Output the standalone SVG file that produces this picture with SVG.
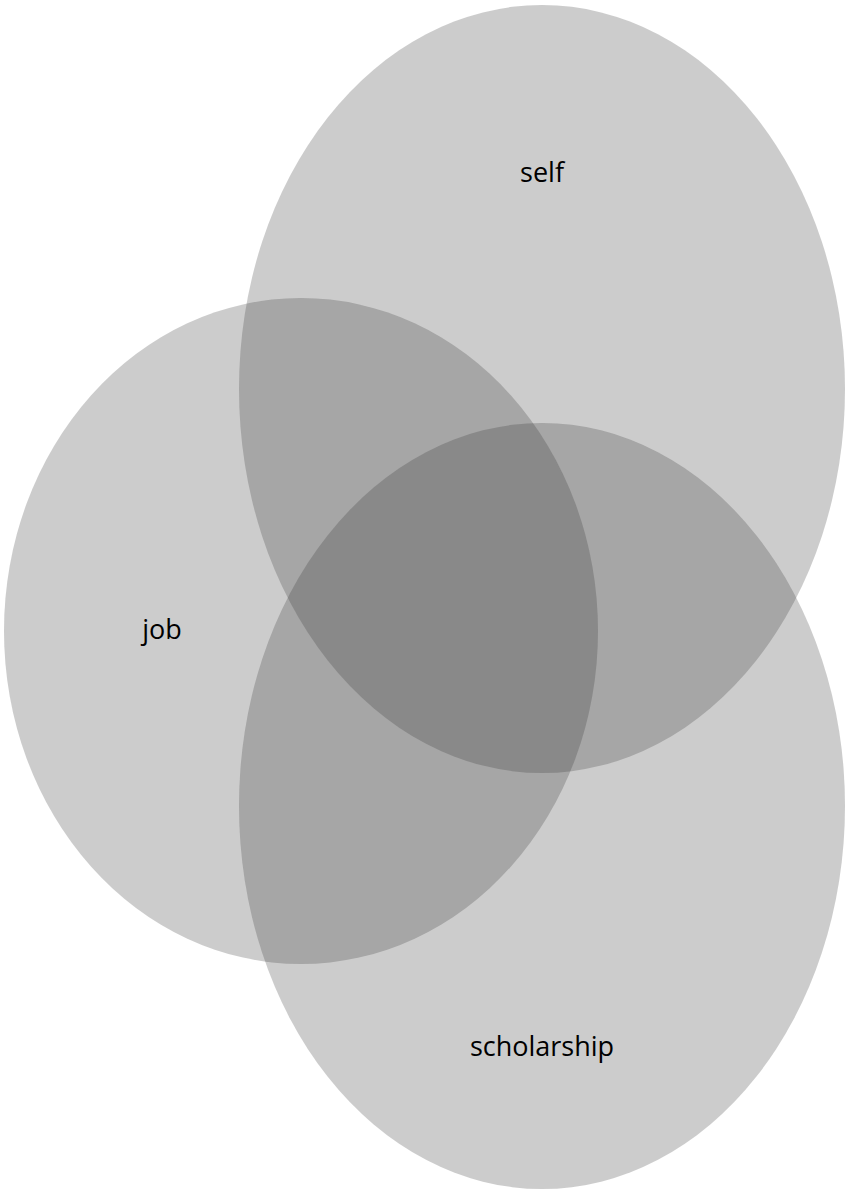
<svg xmlns="http://www.w3.org/2000/svg" width="847" height="1191" viewBox="0 0 847 1191">
<style>
.c{fill:#333333;fill-opacity:0.25;stroke:none}
.t{font-family:"Open Sans",Lato,sans-serif;font-size:27px;fill:#000;text-anchor:middle}
</style>
<rect width="847" height="1191" fill="#ffffff"/>
<g id="self"><ellipse class="c" cx="542" cy="389" rx="303" ry="384"/></g>
<g id="job"><ellipse class="c" cx="301" cy="631" rx="297" ry="333"/></g>
<g id="scholarship"><ellipse class="c" cx="542" cy="806" rx="303" ry="383"/></g>
<g id="labels">
<text class="t" x="542" y="182">self</text>
<text class="t" x="162" y="639">job</text>
<text class="t" x="542" y="1056">scholarship</text>
</g>
<g id="connectors"/>
</svg>
